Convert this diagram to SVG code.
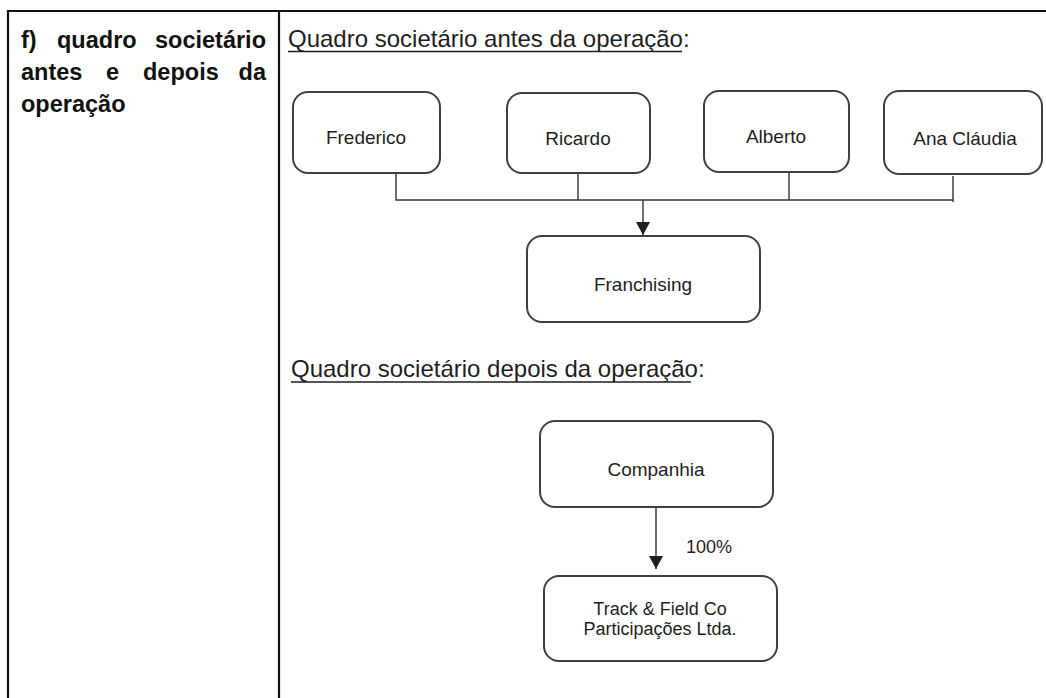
<svg xmlns="http://www.w3.org/2000/svg" width="1046" height="698" viewBox="0 0 1046 698">
<style>
  text { font-family: "Liberation Sans", Arial, sans-serif; fill: #1e1e1e; }
  .hd { font-size: 23.5px; font-weight: bold; fill: #111; }
  .sub { font-size: 24px; }
  .lbl { font-size: 19px; text-anchor: middle; }
  .box { fill: #fff; stroke: #404040; stroke-width: 2; }
  .tbl { stroke: #111; stroke-width: 2.2; fill: none; }
  .con { stroke: #333; stroke-width: 1.4; fill: none; }
  .ul { stroke: #1e1e1e; stroke-width: 1.6; }
</style>
<defs>
  <marker id="arr" markerUnits="userSpaceOnUse" markerWidth="14" markerHeight="14" refX="13" refY="7" orient="auto">
    <path d="M0,0 L13,7 L0,14 Z" fill="#1e1e1e"/>
  </marker>
</defs>
<rect width="1046" height="698" fill="#fff"/>
<g id="table">
  <line class="tbl" x1="7" y1="11" x2="1046" y2="11"/>
  <line class="tbl" x1="8" y1="10" x2="8" y2="698"/>
  <line class="tbl" x1="279" y1="10" x2="279" y2="698"/>
</g>
<g id="heading">
  <text class="hd" x="21" y="48">f)</text>
  <text class="hd" x="57" y="48">quadro</text>
  <text class="hd" x="266" y="48" text-anchor="end">societário</text>
  <text class="hd" x="21" y="80">antes</text>
  <text class="hd" x="106" y="80">e</text>
  <text class="hd" x="143" y="80">depois</text>
  <text class="hd" x="266" y="80" text-anchor="end">da</text>
  <text class="hd" x="21" y="112">operação</text>
</g>
<g id="title-before">
  <text class="sub" x="288" y="47">Quadro societário antes da operação:</text>
  <line class="ul" x1="288" y1="51.5" x2="682" y2="51.5"/>
</g>
<g id="title-after">
  <text class="sub" x="291" y="377">Quadro societário depois da operação:</text>
  <line class="ul" x1="291" y1="382" x2="691" y2="382"/>
</g>
<g id="connectors">
  <polyline class="con" points="396,173 396,200 953,200"/>
  <line class="con" x1="578" y1="173" x2="578" y2="200"/>
  <line class="con" x1="789" y1="172" x2="789" y2="200"/>
  <line class="con" x1="953" y1="176" x2="953" y2="202"/>
  <line class="con" x1="643" y1="200" x2="643" y2="235" marker-end="url(#arr)"/>
  <line class="con" x1="656" y1="507" x2="656" y2="569" marker-end="url(#arr)"/>
  <text x="709" y="553" style="font-size:18px;text-anchor:middle">100%</text>
</g>
<g id="node-frederico">
  <rect class="box" x="293" y="92" width="147" height="81" rx="15"/>
  <text class="lbl" x="366" y="144">Frederico</text>
</g>
<g id="node-ricardo">
  <rect class="box" x="507" y="93" width="143" height="80" rx="15"/>
  <text class="lbl" x="578" y="145">Ricardo</text>
</g>
<g id="node-alberto">
  <rect class="box" x="704" y="91" width="145" height="81" rx="15"/>
  <text class="lbl" x="776" y="143">Alberto</text>
</g>
<g id="node-ana">
  <rect class="box" x="884" y="91" width="158" height="83" rx="15"/>
  <text class="lbl" x="965" y="145">Ana Cláudia</text>
</g>
<g id="node-franchising">
  <rect class="box" x="527" y="236" width="233" height="86" rx="15"/>
  <text class="lbl" x="643" y="291">Franchising</text>
</g>
<g id="node-companhia">
  <rect class="box" x="540" y="421" width="233" height="86" rx="15"/>
  <text class="lbl" x="656" y="476">Companhia</text>
</g>
<g id="node-track">
  <rect class="box" x="544" y="576" width="233" height="85" rx="15"/>
  <text class="lbl" x="660" y="615" style="font-size:18px">Track &amp; Field Co</text>
  <text class="lbl" x="660" y="635" style="font-size:18px">Participações Ltda.</text>
</g>
</svg>
